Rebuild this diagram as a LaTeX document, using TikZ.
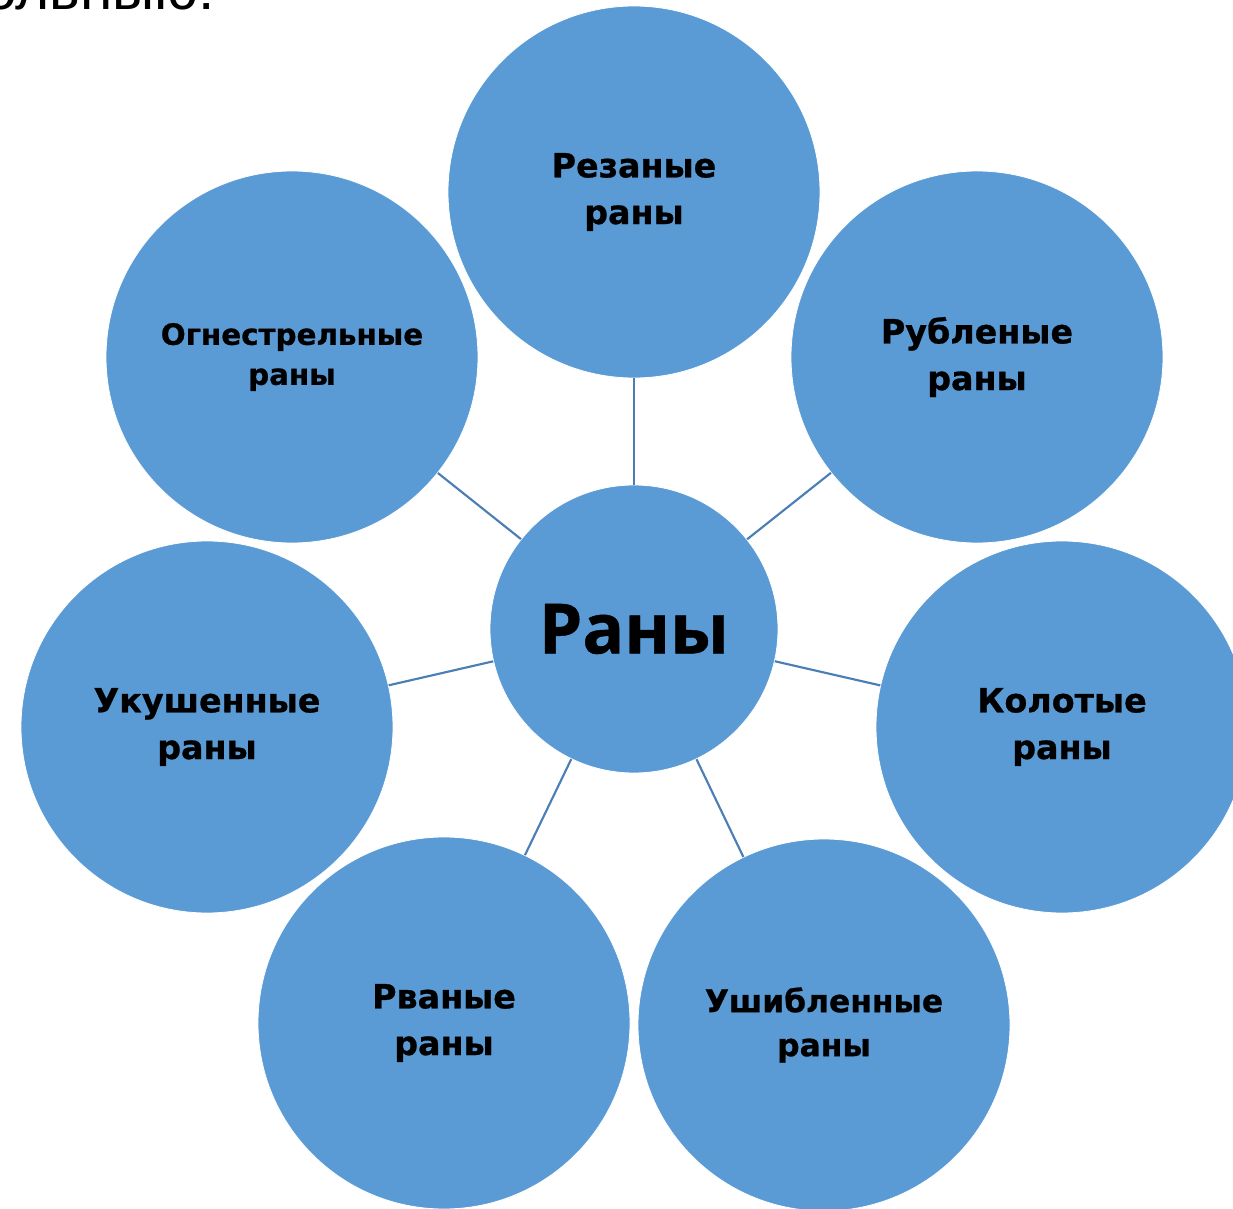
\documentclass[tikz,border=0pt]{standalone}
\usepackage{fontspec}
\setmainfont{DejaVu Sans}
\newfontfamily\labelfont[BoldFeatures={FakeBold=0.8}]{DejaVu Sans}
\newfontfamily\centerfont[BoldFeatures={FakeBold=0.6}]{Open Sans}
\newfontfamily\fragfont{Liberation Sans}
\definecolor{circfill}{HTML}{5B9BD5}
\definecolor{linkcol}{HTML}{4A7EB5}
\tikzset{
  bigcirc/.style={circle, fill=circfill, draw=white, line width=0.6pt, minimum size=279pt, inner sep=0pt, align=center, text=black},
  midcirc/.style={circle, fill=circfill, draw=white, line width=0.6pt, minimum size=216pt, inner sep=0pt, text=black},
  link/.style={draw=linkcol, line width=1.6pt},
  lbl/.style={font=\labelfont\bfseries\fontsize{25}{35}\selectfont},
  lblmid/.style={font=\labelfont\bfseries\fontsize{23.5}{33}\selectfont},
  lblsmall/.style={font=\labelfont\bfseries\fontsize{22}{30}\selectfont}
}
\begin{document}
\begin{tikzpicture}[x=0.75pt,y=-0.75pt]
\useasboundingbox (0,0) rectangle (1233,1209);
\clip (0,0) rectangle (1233,1209);
\node[anchor=base west, inner sep=0pt, font=\fragfont\fontsize{44}{50}\selectfont] (frag) at (-16,10) {ольныю:};
\node[bigcirc, lbl] (rez) at (634,192) {Резаные\\раны};
\node[bigcirc, lbl] (rub) at (977,357) {Рубленые\\раны};
\node[bigcirc, lbl] (kol) at (1062,727) {Колотые\\раны};
\node[bigcirc, lblmid] (ush) at (824,1025) {Ушибленные\\раны};
\node[bigcirc, lbl] (rvan) at (444,1023) {Рваные\\раны};
\node[bigcirc, lbl] (uku) at (207,727) {Укушенные\\раны};
\node[bigcirc, lblsmall] (ogn) at (292,357) {Огнестрельные\\раны};
\node[midcirc, font=\centerfont\bfseries\fontsize{52}{60}\selectfont] (c) at (634,629) {Раны};
\foreach \n in {rez,rub,kol,ush,rvan,uku,ogn}{
  \draw[link] (c) -- (\n);
}
\end{tikzpicture}
\end{document}
